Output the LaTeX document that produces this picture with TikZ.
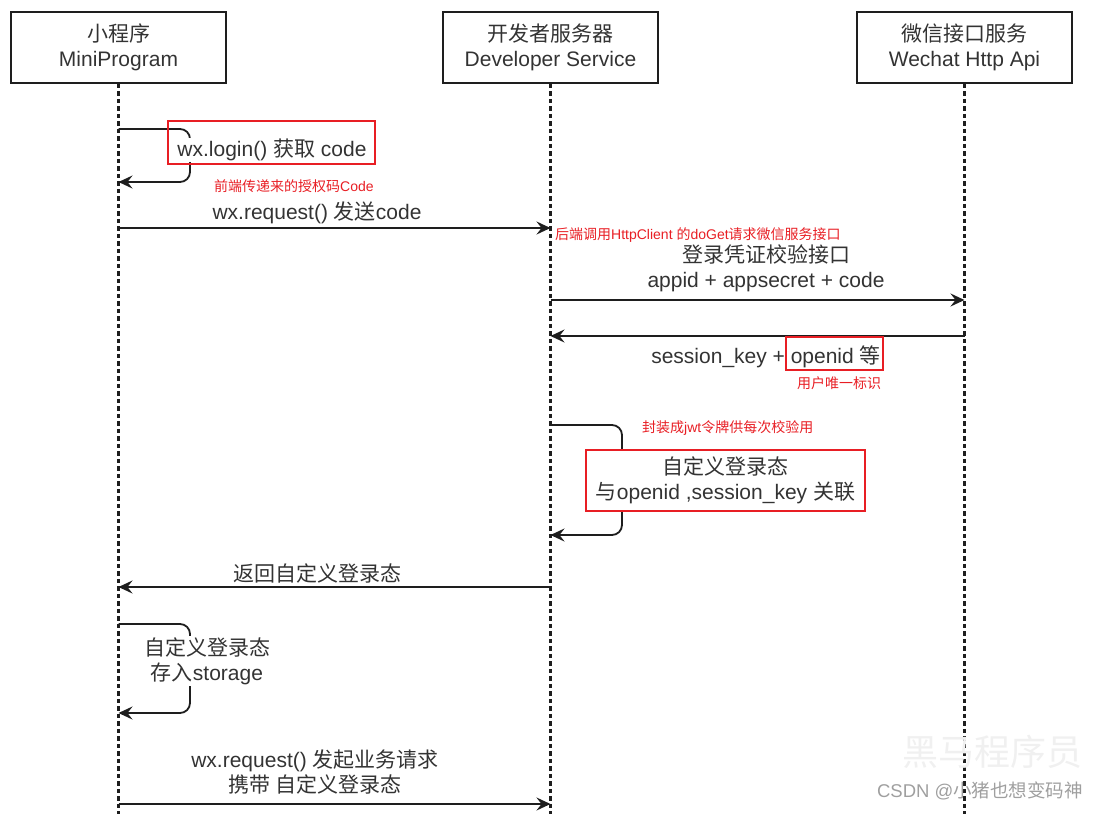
\documentclass[tikz,border=0pt]{standalone}
\usepackage{fontspec}
\setmainfont{Liberation Sans}
\newfontfamily\cjk{Noto Sans CJK SC}
\usetikzlibrary{arrows.meta}
\definecolor{markred}{RGB}{232,30,36}
\definecolor{inkgray}{RGB}{30,30,30}
\definecolor{textgray}{RGB}{51,51,51}
\newcommand\zh[1]{{\cjk #1}}
\newcommand\msgfont{\fontsize{21}{25}\selectfont}
\newcommand\notefont{\fontsize{14}{17}\selectfont}
\tikzset{
  actor/.style={draw=inkgray, line width=1.8pt, minimum width=215pt, minimum height=71pt,
    align=center, font=\msgfont, text=textgray},
  lifeline/.style={inkgray, line width=2.2pt, dash pattern=on 4.5pt off 3pt},
  msg/.style={inkgray, line width=1.8pt, -{Stealth[length=14pt,width=13pt,inset=5pt]}},
  msglabel/.style={font=\msgfont, text=textgray, align=center, inner sep=1pt},
  redtext/.style={font=\notefont, text=markred, inner sep=0pt},
  redbox/.style={draw=markred, line width=1.8pt},
}
\begin{document}
\begin{tikzpicture}[x=1pt,y=-1pt]
		\useasboundingbox (0,0) rectangle (1101,814);

		%% Participants
		\node[actor] (mp) at (118.5,47.5) {\zh{小程序}\\MiniProgram};
		\node[actor] (dev) at (550.5,47.5) {\zh{开发者服务器}\\Developer Service};
		\node[actor] (wx) at (964.5,47.5) {\zh{微信接口服务}\\Wechat Http Api};
		\foreach \a in {mp,dev,wx}
			\draw[lifeline] (\a.south) -- (\a |- 0,814);

		%% wx.login() on the mini program
		\draw[msg, rounded corners=10pt] (mp |- 0,129) -- (190,129) -- (190,182) -- (mp |- 0,182);
		\node[msglabel, fill=white] (login) at (272,150) {wx.login() \zh{获取} code};
		\node[redbox, minimum width=207pt, minimum height=43pt] (loginbox) at (271.5,142.5) {};
		\node[redtext, anchor=west] (codenote) at (214,186) {\zh{前端传递来的授权码}Code};

		%% Send code to the server
		\draw[msg] (mp |- 0,228) -- (dev |- 0,228);
		\node[msglabel] (req) at (317,213) {wx.request() \zh{发送}code};
		\node[redtext, anchor=west] (callnote) at (555,235)
		{\zh{后端调用}HttpClient \zh{的}doGet\zh{请求微信服务接口}};

		%% Server <-> WeChat
		\draw[msg] (dev |- 0,300) -- (wx |- 0,300);
		\node[msglabel] (check) at (766,268) {\zh{登录凭证校验接口}\\appid + appsecret + code};
		\draw[msg] (wx |- 0,336) -- (dev |- 0,336);
		\node[msglabel] (sess) at (766,357) {session\_key + openid \zh{等}};
		\node[redbox, minimum width=97pt, minimum height=33pt] (openidbox) at (834.5,353.5) {};
		\node[redtext] (openidnote) at (839,383) {\zh{用户唯一标识}};

		%% Custom login state
		\draw[msg, rounded corners=10pt] (dev |- 0,425) -- (622,425) -- (622,535) -- (dev |- 0,535);
		\node[redtext, anchor=west] (jwtnote) at (642,428) {\zh{封装成}jwt\zh{令牌供每次校验用}};
		\node[msglabel, redbox, fill=white, minimum width=279pt, minimum height=61pt] (state)
		at (725.5,480.5) {\zh{自定义登录态}\\\zh{与}openid ,session\_key \zh{关联}};

		%% Back to the mini program
		\draw[msg] (dev |- 0,587) -- (mp |- 0,587);
		\node[msglabel] (ret) at (317,573) {\zh{返回自定义登录态}};
		\draw[msg, rounded corners=10pt] (mp |- 0,624) -- (190,624) -- (190,713) -- (mp |- 0,713);
		\node[msglabel, fill=white] (store) at (207,661) {\zh{自定义登录态}\\\zh{存入}storage};

		%% Business request
		\draw[msg] (mp |- 0,804) -- (dev |- 0,804);
		\node[msglabel] (biz) at (315,772) {wx.request() \zh{发起业务请求}\\\zh{携带 自定义登录态}};

		% Watermark
		\node[font=\fontsize{36}{36}\selectfont\cjk, text=gray!12] (wm) at (992,752) {黑马程序员};
		\node[font=\fontsize{18.5}{20}\selectfont, text=gray!75] (csdn) at (980,791) {CSDN @\zh{小猪也想变码神}};
	\end{tikzpicture}
\end{document}
